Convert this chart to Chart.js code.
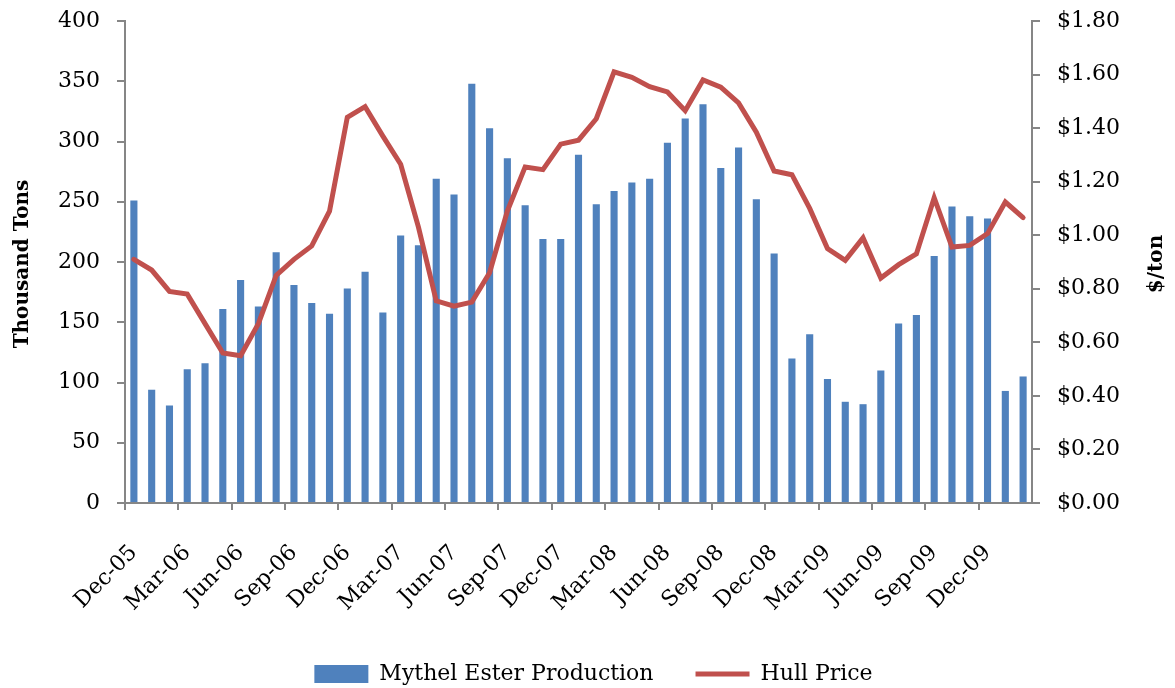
<!DOCTYPE html>
<html>
<head>
<meta charset="utf-8">
<script src="https://cdn.jsdelivr.net/npm/chart.js@4"></script>
<style>
  html, body { margin: 0; padding: 0; background: #fff; }
  #wrap { width: 1175px; height: 688px; }
</style>
</head>
<body>
<div id="wrap"><canvas id="chart"></canvas></div>
<script>
// Monthly data, Dec-05 .. Feb-10
const months = [
  "Dec-05",
  "Jan-06", "Feb-06", "Mar-06", "Apr-06", "May-06", "Jun-06", "Jul-06", "Aug-06", "Sep-06", "Oct-06", "Nov-06", "Dec-06",
  "Jan-07", "Feb-07", "Mar-07", "Apr-07", "May-07", "Jun-07", "Jul-07", "Aug-07", "Sep-07", "Oct-07", "Nov-07", "Dec-07",
  "Jan-08", "Feb-08", "Mar-08", "Apr-08", "May-08", "Jun-08", "Jul-08", "Aug-08", "Sep-08", "Oct-08", "Nov-08", "Dec-08",
  "Jan-09", "Feb-09", "Mar-09", "Apr-09", "May-09", "Jun-09", "Jul-09", "Aug-09", "Sep-09", "Oct-09", "Nov-09", "Dec-09",
  "Jan-10", "Feb-10"
];

// thousand tons
const production = [
  251,
  94, 81, 111, 116, 161, 185, 163, 208, 181, 166, 157, 178,
  192, 158, 222, 214, 269, 256, 348, 311, 286, 247, 219, 219,
  289, 248, 259, 266, 269, 299, 319, 331, 278, 295, 252, 207,
  120, 140, 103, 84, 82, 110, 149, 156, 205, 246, 238, 236,
  93, 105
];

// $/ton
const hullPrice = [
  0.91,
  0.87, 0.79, 0.78, 0.67, 0.56, 0.55, 0.67, 0.85, 0.91, 0.96, 1.09, 1.44,
  1.48, 1.37, 1.265, 1.03, 0.755, 0.735, 0.75, 0.86, 1.09, 1.255, 1.245, 1.34,
  1.355, 1.435, 1.61, 1.59, 1.555, 1.535, 1.465, 1.58, 1.553, 1.494, 1.385, 1.24,
  1.226, 1.10, 0.95, 0.906, 0.99, 0.84, 0.89, 0.93, 1.14, 0.956, 0.962, 1.006,
  1.124, 1.066
];

const axisGray = "#868686";
const font = "'DejaVu Serif', serif";

// axis titles: left reads bottom-to-top, and so does the right one
const axisTitles = {
  id: "axisTitles",
  afterDraw(chart) {
    const { ctx, chartArea } = chart;
    const midY = (chartArea.top + chartArea.bottom) / 2 + 2;
    ctx.save();
    ctx.fillStyle = "#000";
    ctx.font = "bold 20px " + font;
    ctx.textAlign = "center";
    ctx.textBaseline = "middle";
    [[23, "Thousand Tons"], [1157, "$/ton"]].forEach(([x, text]) => {
      ctx.save();
      ctx.translate(x, midY);
      ctx.rotate(-Math.PI / 2);
      ctx.fillText(text, 0, 0);
      ctx.restore();
    });
    ctx.restore();
  }
};

// fixed side widths; tick padding shouldn't push the plot area down
function fixWidth(w) {
  return scale => {
    scale.width = w;
    scale.paddingTop = 0;
    scale.paddingBottom = 0;
  };
}

new Chart(document.getElementById("chart"), {
  data: {
    labels: months,
    datasets: [
      {
        type: "bar",
        label: "Mythel Ester Production",
        data: production,
        backgroundColor: "#4F81BD",
        borderWidth: 0,
        barPercentage: 0.4,
        categoryPercentage: 1.0,
        yAxisID: "y",
        order: 1
      },
      {
        type: "line",
        label: "Hull Price",
        data: hullPrice,
        borderColor: "#C0504D",
        backgroundColor: "#C0504D",
        borderWidth: 5,
        borderCapStyle: "round",
        pointRadius: 0,
        tension: 0,
        yAxisID: "y1",
        order: 0
      }
    ]
  },
  options: {
    responsive: true,
    maintainAspectRatio: false,
    animation: false,
    layout: { padding: { top: 21, left: 12, right: 0, bottom: -7 } },
    plugins: {
      tooltip: { enabled: false },
      legend: {
        position: "bottom",
        labels: {
          color: "#000",
          font: { family: font, size: 22 },
          usePointStyle: true,
          pointStyleWidth: 54,
          boxHeight: 18,
          padding: 42,
          sort: (a, b) => a.datasetIndex - b.datasetIndex,
          generateLabels(chart) {
            const items = Chart.defaults.plugins.legend.labels.generateLabels(chart);
            items.forEach(it => {
              it.pointStyle = it.datasetIndex === 0 ? "rect" : "line";
            });
            return items;
          }
        }
      }
    },
    scales: {
      x: {
        offset: true,
        afterFit(scale) { scale.height = 118; },
        grid: {
          offset: true,
          drawOnChartArea: false,
          drawTicks: true,
          tickLength: 7,
          lineWidth: 2,
          color: ctx => (ctx.index % 3 === 0 ? axisGray : "rgba(0,0,0,0)")
        },
        border: { color: axisGray, width: 2 },
        ticks: {
          autoSkip: false,
          minRotation: 45,
          maxRotation: 45,
          padding: 30,
          color: "#000",
          font: { family: font, size: 22 },
          callback(value, index) {
            return index % 3 === 0 ? this.getLabelForValue(value) : "";
          }
        }
      },
      y: {
        position: "left",
        min: 0,
        max: 400,
        afterFit: fixWidth(113),
        grid: { drawOnChartArea: false, tickLength: 8, lineWidth: 2, color: axisGray },
        border: { color: axisGray, width: 2 },
        ticks: {
          stepSize: 50,
          padding: 17,
          color: "#000",
          font: { family: font, size: 22 }
        }
      },
      y1: {
        position: "right",
        min: 0,
        max: 1.8,
        afterFit: fixWidth(143),
        grid: { drawOnChartArea: false, tickLength: 8, lineWidth: 2, color: axisGray },
        border: { color: axisGray, width: 2 },
        ticks: {
          stepSize: 0.2,
          padding: 17,
          color: "#000",
          font: { family: font, size: 22 },
          callback: v => "$" + v.toFixed(2)
        }
      }
    }
  },
  plugins: [axisTitles]
});
</script>
</body>
</html>
